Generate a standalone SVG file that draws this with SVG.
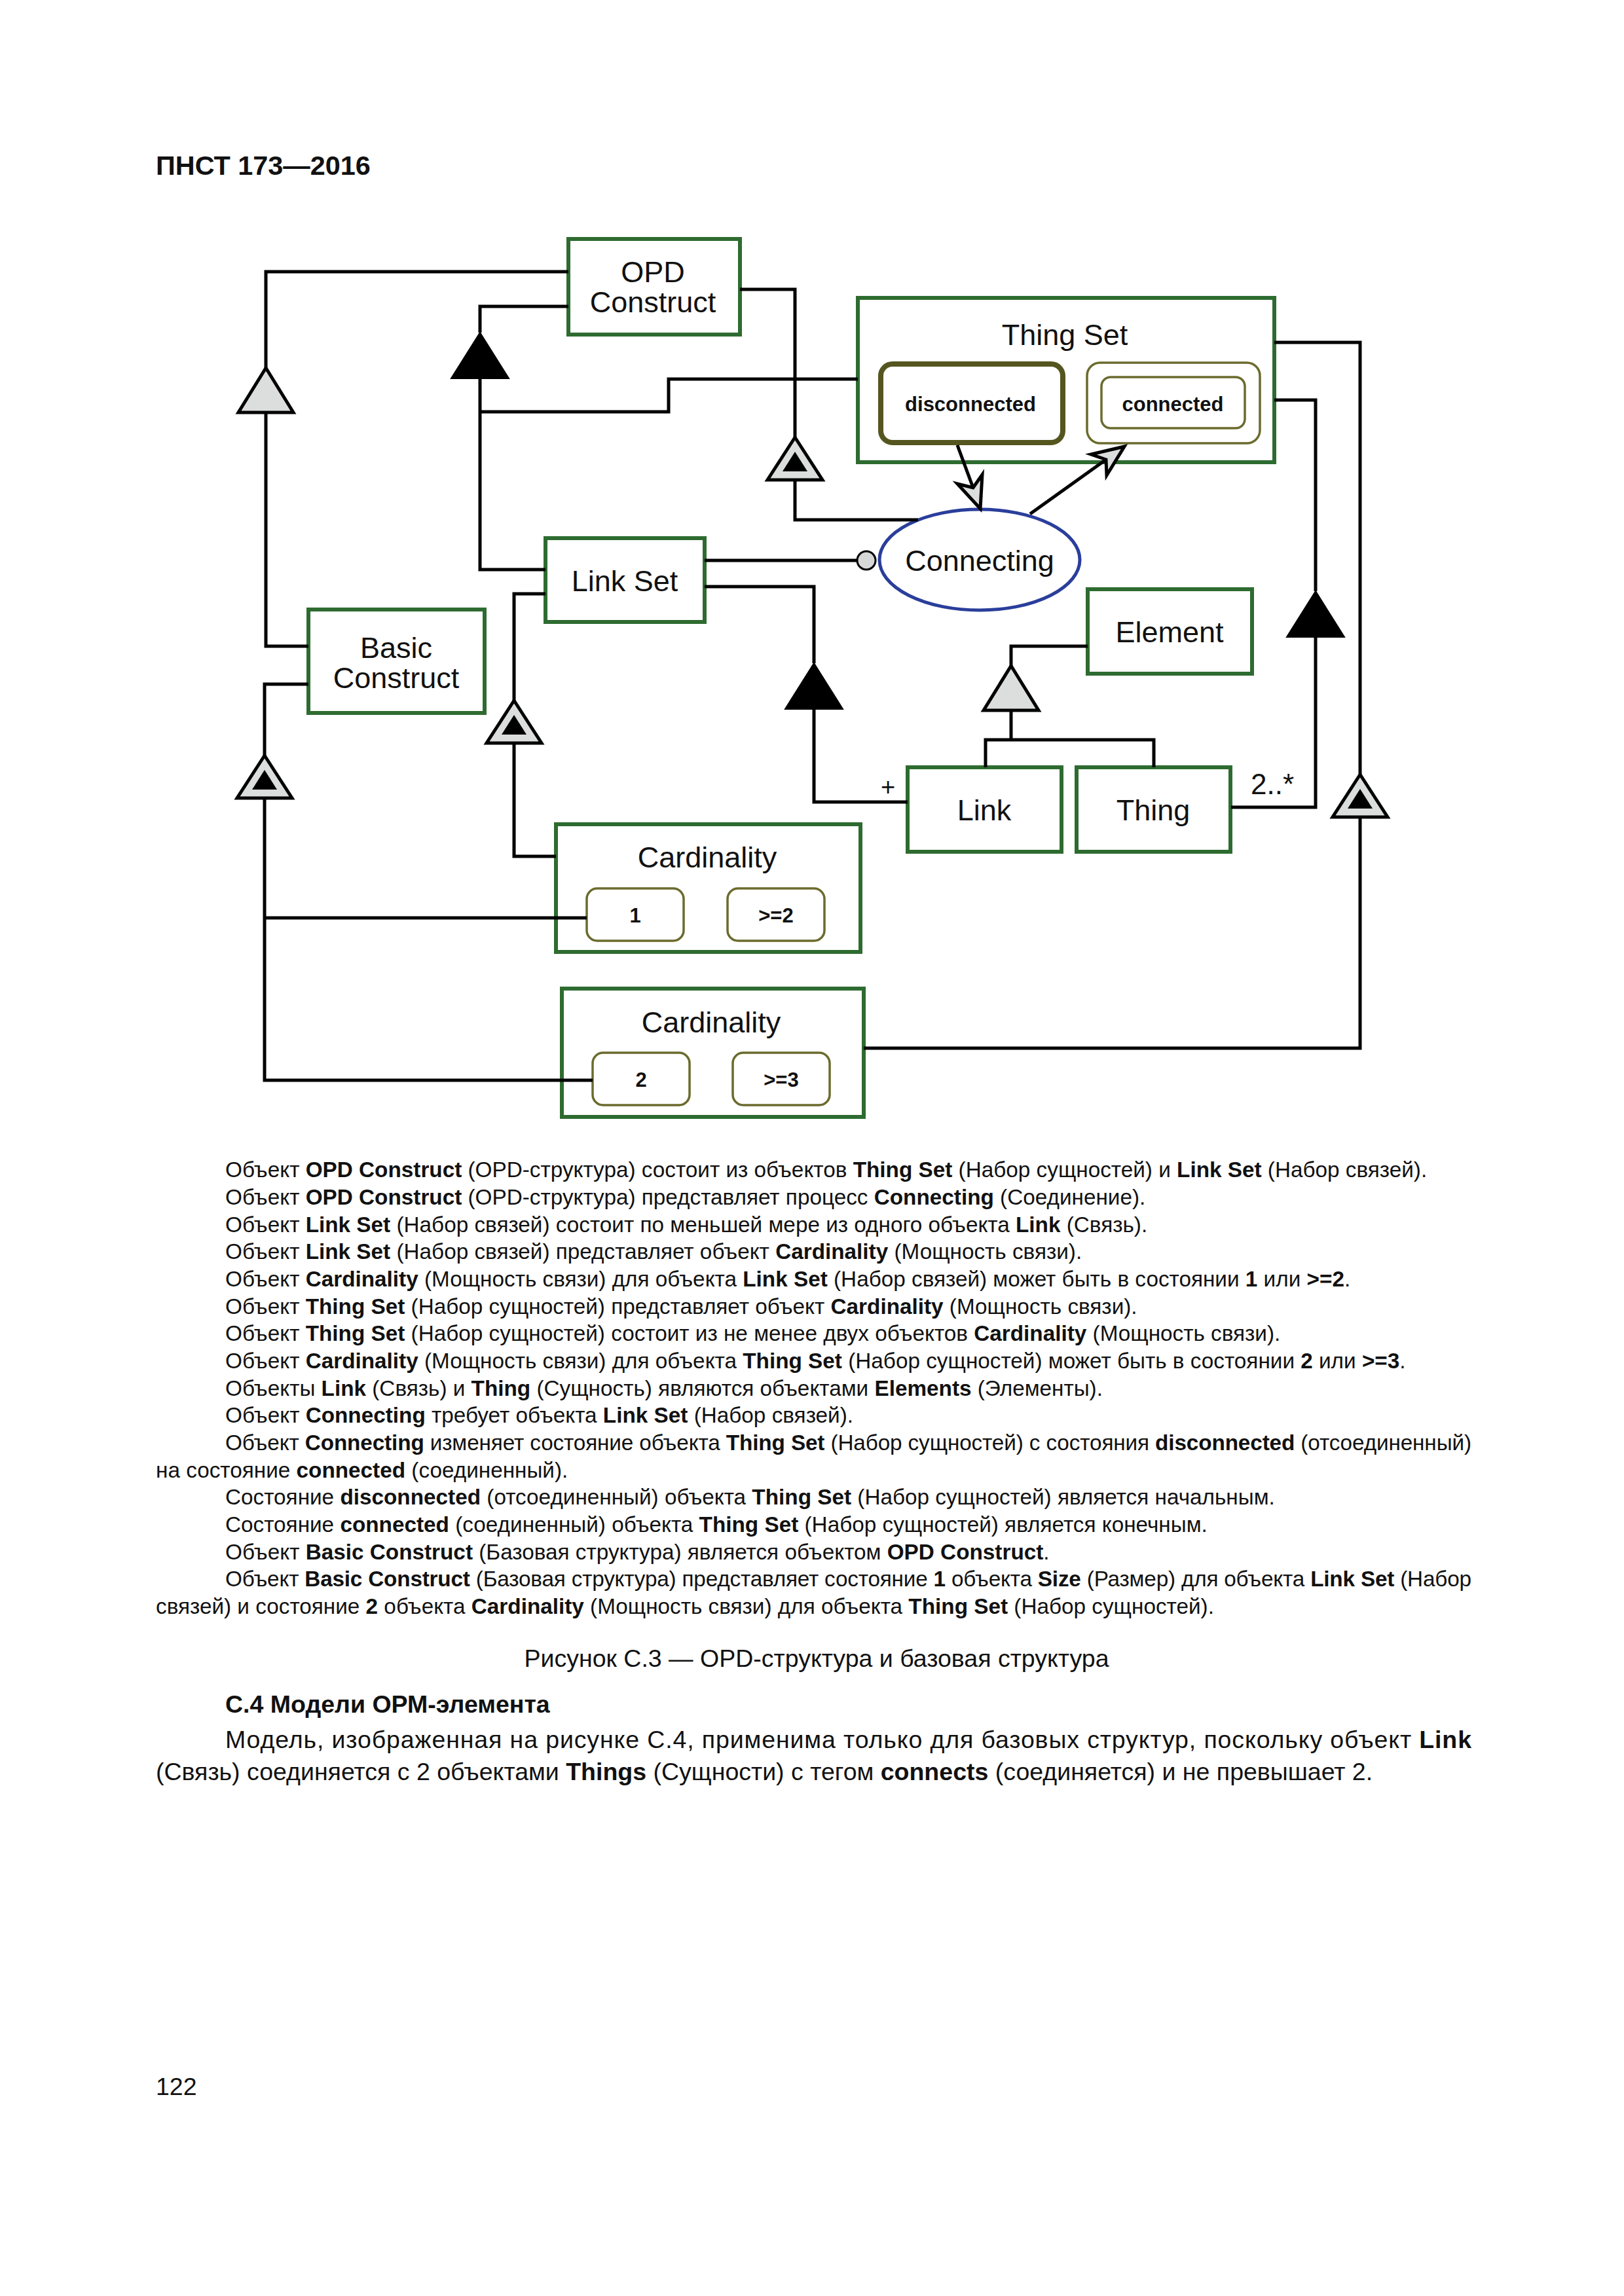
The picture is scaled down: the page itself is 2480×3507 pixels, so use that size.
<svg xmlns="http://www.w3.org/2000/svg" xmlns:xlink="http://www.w3.org/1999/xlink" width="2480" height="3507" viewBox="0 0 2480 3507">
<style>
text{font-family:"Liberation Sans",Arial,sans-serif;fill:#111}
.node{fill:#fff;stroke:#2e6b30;stroke-width:6}
.state{fill:#fff;stroke:#6b6b2e;stroke-width:3.5}
.lbl{font-size:45px;text-anchor:middle}
.st{font-size:31px;font-weight:bold;text-anchor:middle}
.ln{fill:none;stroke:#000;stroke-width:5}
.body{font-size:33.3px}
.doc{font-size:37.5px}
.b{font-weight:bold}
</style>
<defs>
<g id="agg"><polygon points="0,0 -44,70 44,70" fill="#000" stroke="#000" stroke-width="2"/></g>
<g id="gen"><polygon points="0,0 -42,68 42,68" fill="#dcdedd" stroke="#000" stroke-width="5"/></g>
<g id="exh"><polygon points="0,0 -42,65 42,65" fill="#dcdedd" stroke="#000" stroke-width="5"/><polygon points="0,22 -19,52 19,52" fill="#000"/></g>
</defs>
<rect width="2480" height="3507" fill="#fff"/>
<text x="238" y="267" font-size="41.4" font-weight="bold">ПНСТ 173—2016</text>

<g id="opd-construct">
<rect class="node" x="868" y="365" width="262" height="146"/>
<text class="lbl" x="997" y="431">OPD</text>
<text class="lbl" x="997" y="477">Construct</text>
</g>
<g id="thing-set">
<rect class="node" x="1310" y="455" width="636" height="251"/>
<text class="lbl" x="1626" y="527">Thing Set</text>
</g>
<g id="state-disconnected">
<rect x="1345" y="556" width="278" height="120" rx="18" fill="#fff" stroke="#55561f" stroke-width="8"/>
<text class="st" x="1482" y="628">disconnected</text>
</g>
<g id="state-connected">
<rect class="state" x="1660" y="554" width="264" height="123" rx="20"/>
<rect class="state" x="1682" y="576" width="219" height="78" rx="14"/>
<text class="st" x="1791" y="628">connected</text>
</g>
<g id="connecting">
<ellipse cx="1496" cy="855" rx="153" ry="77" fill="#fff" stroke="#2a3e9b" stroke-width="5"/>
<text class="lbl" x="1496" y="872">Connecting</text>
</g>
<g id="link-set">
<rect class="node" x="833" y="822" width="243" height="128"/>
<text class="lbl" x="954" y="903">Link Set</text>
</g>
<g id="basic-construct">
<rect class="node" x="471" y="931" width="269" height="158"/>
<text class="lbl" x="605" y="1005">Basic</text>
<text class="lbl" x="605" y="1051">Construct</text>
</g>
<g id="element">
<rect class="node" x="1661" y="900" width="251" height="129"/>
<text class="lbl" x="1786" y="981">Element</text>
</g>
<g id="link">
<rect class="node" x="1386" y="1172" width="235" height="129"/>
<text class="lbl" x="1503" y="1253">Link</text>
</g>
<g id="thing">
<rect class="node" x="1644" y="1172" width="235" height="129"/>
<text class="lbl" x="1761" y="1253">Thing</text>
</g>
<g id="cardinality-1">
<rect class="node" x="849" y="1259" width="465" height="195"/>
<text class="lbl" x="1080" y="1325">Cardinality</text>
</g>
<g id="state-1">
<rect class="state" x="896" y="1357" width="148" height="80" rx="16"/>
<text class="st" x="970" y="1409">1</text>
</g>
<g id="state-ge2">
<rect class="state" x="1111" y="1357" width="148" height="80" rx="16"/>
<text class="st" x="1185" y="1409">&gt;=2</text>
</g>
<g id="cardinality-2">
<rect class="node" x="858" y="1510" width="461" height="196"/>
<text class="lbl" x="1086" y="1577">Cardinality</text>
</g>
<g id="state-2">
<rect class="state" x="905" y="1608" width="148" height="80" rx="16"/>
<text class="st" x="979" y="1660">2</text>
</g>
<g id="state-ge3">
<rect class="state" x="1119" y="1608" width="148" height="80" rx="16"/>
<text class="st" x="1193" y="1660">&gt;=3</text>
</g>

<g id="connectors">
<path class="ln" d="M868,415 H406 V562 M406,631 V987 H471"/>
<use xlink:href="#gen" x="406" y="562"/>
<path class="ln" d="M868,468 H733 V508 M733,579 V870 H833 M733,629 H1021 V579 H1310"/>
<use xlink:href="#agg" x="733" y="508"/>
<path class="ln" d="M1130,442 H1214 V668 M1214,732 V794 H1402"/>
<use xlink:href="#exh" x="1214" y="668"/>
<path class="ln" d="M1076,856 H1309"/>
<circle cx="1323" cy="856" r="14" fill="#d6d8d7" stroke="#000" stroke-width="3"/>
<path class="ln" d="M1076,896 H1243 V1013 M1243,1082 V1225 H1386"/>
<use xlink:href="#agg" x="1243" y="1013"/>
<text x="1356" y="1215" font-size="38" text-anchor="middle">+</text>
<path class="ln" d="M833,907 H785 V1070 M785,1135 V1308 H849"/>
<use xlink:href="#exh" x="785" y="1070"/>
<path class="ln" d="M1661,987 H1544 V1017 M1544,1085 V1130 M1505,1172 V1130 H1762 V1172"/>
<use xlink:href="#gen" x="1544" y="1017"/>
<path class="ln" d="M1946,611 H2009 V903 M2009,972 V1233 H1880"/>
<use xlink:href="#agg" x="2009" y="903"/>
<text x="1910" y="1213" font-size="44">2..*</text>
<path class="ln" d="M1946,523 H2077 V1183 M2077,1248 V1601 H1319"/>
<use xlink:href="#exh" x="2077" y="1183"/>
<path class="ln" d="M471,1045 H404 V1154 M404,1219 V1650 H905 M404,1402 H896"/>
<use xlink:href="#exh" x="404" y="1154"/>
<path class="ln" d="M1462,680 L1486,745"/>
<polygon points="1497,777 1462,739 1486,745 1500,725" fill="#dcdedd" stroke="#000" stroke-width="5" stroke-linejoin="miter"/>
<path class="ln" d="M1573,785 L1689,702"/>
<polygon points="1717,682 1666,694 1689,702 1690,726" fill="#dcdedd" stroke="#000" stroke-width="5" stroke-linejoin="miter"/>
</g>

<g id="caption-text">
<text class="body" x="344" y="1798">Объект <tspan class="b">OPD Construct</tspan> (OPD-структура) состоит из объектов <tspan class="b">Thing Set</tspan> (Набор сущностей) и <tspan class="b">Link Set</tspan> (Набор связей).</text>
<text class="body" x="344" y="1840">Объект <tspan class="b">OPD Construct</tspan> (OPD-структура) представляет процесс <tspan class="b">Connecting</tspan> (Соединение).</text>
<text class="body" x="344" y="1882">Объект <tspan class="b">Link Set</tspan> (Набор связей) состоит по меньшей мере из одного объекта <tspan class="b">Link</tspan> (Связь).</text>
<text class="body" x="344" y="1923">Объект <tspan class="b">Link Set</tspan> (Набор связей) представляет объект <tspan class="b">Cardinality</tspan> (Мощность связи).</text>
<text class="body" x="344" y="1965">Объект <tspan class="b">Cardinality</tspan> (Мощность связи) для объекта <tspan class="b">Link Set</tspan> (Набор связей) может быть в состоянии <tspan class="b">1</tspan> или <tspan class="b">&gt;=2</tspan>.</text>
<text class="body" x="344" y="2007">Объект <tspan class="b">Thing Set</tspan> (Набор сущностей) представляет объект <tspan class="b">Cardinality</tspan> (Мощность связи).</text>
<text class="body" x="344" y="2048">Объект <tspan class="b">Thing Set</tspan> (Набор сущностей) состоит из не менее двух объектов <tspan class="b">Cardinality</tspan> (Мощность связи).</text>
<text class="body" x="344" y="2090">Объект <tspan class="b">Cardinality</tspan> (Мощность связи) для объекта <tspan class="b">Thing Set</tspan> (Набор сущностей) может быть в состоянии <tspan class="b">2</tspan> или <tspan class="b">&gt;=3</tspan>.</text>
<text class="body" x="344" y="2132">Объекты <tspan class="b">Link</tspan> (Связь) и <tspan class="b">Thing</tspan> (Сущность) являются объектами <tspan class="b">Elements</tspan> (Элементы).</text>
<text class="body" x="344" y="2173">Объект <tspan class="b">Connecting</tspan> требует объекта <tspan class="b">Link Set</tspan> (Набор связей).</text>
<text class="body" x="344" y="2215" textLength="1903" lengthAdjust="spacing">Объект <tspan class="b">Connecting</tspan> изменяет состояние объекта <tspan class="b">Thing Set</tspan> (Набор сущностей) с состояния <tspan class="b">disconnected</tspan> (отсоединенный)</text>
<text class="body" x="238" y="2257">на состояние <tspan class="b">connected</tspan> (соединенный).</text>
<text class="body" x="344" y="2298">Состояние <tspan class="b">disconnected</tspan> (отсоединенный) объекта <tspan class="b">Thing Set</tspan> (Набор сущностей) является начальным.</text>
<text class="body" x="344" y="2340">Состояние <tspan class="b">connected</tspan> (соединенный) объекта <tspan class="b">Thing Set</tspan> (Набор сущностей) является конечным.</text>
<text class="body" x="344" y="2382">Объект <tspan class="b">Basic Construct</tspan> (Базовая структура) является объектом <tspan class="b">OPD Construct</tspan>.</text>
<text class="body" x="344" y="2423" textLength="1903" lengthAdjust="spacing">Объект <tspan class="b">Basic Construct</tspan> (Базовая структура) представляет состояние <tspan class="b">1</tspan> объекта <tspan class="b">Size</tspan> (Размер) для объекта <tspan class="b">Link Set</tspan> (Набор</text>
<text class="body" x="238" y="2465">связей) и состояние <tspan class="b">2</tspan> объекта <tspan class="b">Cardinality</tspan> (Мощность связи) для объекта <tspan class="b">Thing Set</tspan> (Набор сущностей).</text>
<text class="doc" x="1247" y="2546" text-anchor="middle">Рисунок С.3 — OPD-структура и базовая структура</text>
<text class="doc" x="344" y="2616" font-weight="bold">С.4 Модели ОРМ-элемента</text>
<text class="doc" x="344" y="2670" textLength="1903" lengthAdjust="spacing">Модель, изображенная на рисунке С.4, применима только для базовых структур, поскольку объект <tspan class="b">Link</tspan></text>
<text class="doc" x="238" y="2719">(Связь) соединяется с 2 объектами <tspan class="b">Things</tspan> (Сущности) с тегом <tspan class="b">connects</tspan> (соединяется) и не превышает 2.</text>
<text class="doc" x="238" y="3200">122</text>
</g>
</svg>
